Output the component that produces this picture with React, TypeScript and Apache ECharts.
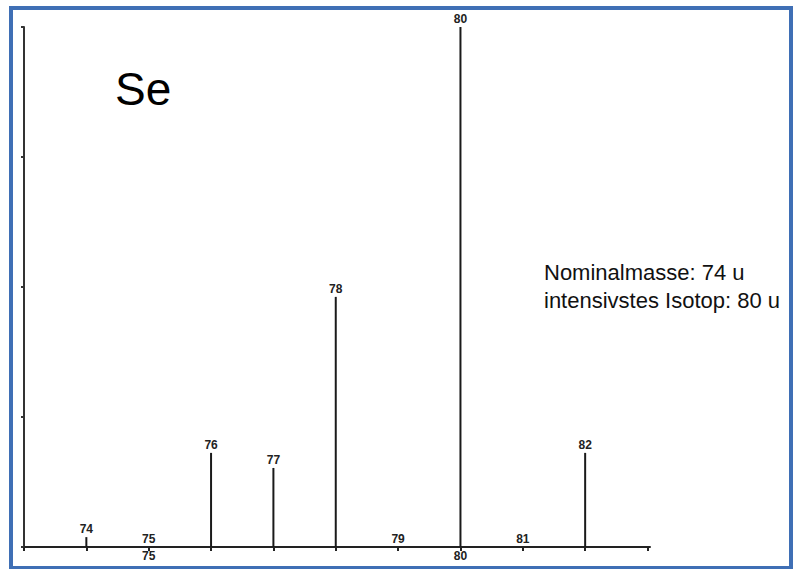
import React, { useEffect, useRef } from "react";
import * as echarts from "echarts";

const masses = [74, 75, 76, 77, 78, 79, 80, 81, 82];
const intensities = [1.9, 0, 18.1, 15.2, 48.1, 0, 100, 0, 18.1];
const axisLabelMasses = [75, 80];
const elementTitle = "Se";
const infoLines = ["Nominalmasse: 74 u", "intensivstes Isotop: 80 u"];

export default function App() {
  const ref = useRef<HTMLDivElement>(null);
  useEffect(() => {
    if (!ref.current) return;
    const chart = echarts.init(ref.current, null, { renderer: "svg" });
    const labelFont = "'Liberation Sans Narrow', 'Liberation Sans', Arial, sans-serif";
    chart.setOption({
      animation: false,
      backgroundColor: "#ffffff",
      grid: { left: 24, right: 144, top: 27, bottom: 22, containLabel: false },
      xAxis: {
        type: "value",
        min: 73,
        max: 83.04,
        interval: 1,
        splitLine: { show: false },
        axisLine: { show: true, lineStyle: { color: "#222", width: 2 } },
        axisTick: { show: true, length: 4, lineStyle: { color: "#222", width: 2 } },
        axisLabel: {
          margin: 3,
          color: "#222",
          fontFamily: labelFont,
          fontWeight: "bold",
          fontSize: 12,
          showMaxLabel: false,
          formatter: (v: number) => (axisLabelMasses.includes(v) ? String(v) : ""),
        },
      },
      yAxis: {
        type: "value",
        min: 0,
        max: 100,
        interval: 25,
        splitLine: { show: false },
        axisLine: { show: true, lineStyle: { color: "#333", width: 2 } },
        axisTick: { show: true, length: 3, lineStyle: { color: "#333", width: 2 } },
        axisLabel: { show: false },
      },
      series: [
        {
          type: "bar",
          barWidth: 2,
          itemStyle: { color: "#1a1a1a" },
          data: masses.map((m, i) => [m, intensities[i]]),
          label: {
            show: true,
            position: "top",
            distance: 2,
            color: "#222",
            fontFamily: labelFont,
            fontWeight: "bold",
            fontSize: 12,
            formatter: (p: any) => String(p.value[0]),
          },
        },
      ],
      graphic: [
        {
          type: "rect",
          shape: { x: 11, y: 8, width: 780, height: 560 },
          style: { fill: "none", stroke: "#3F6FB5", lineWidth: 4 },
          silent: true,
        },
        {
          type: "text",
          left: 115,
          top: 66,
          style: {
            text: elementTitle,
            fontSize: 46,
            fontFamily: "'Liberation Sans', Arial, sans-serif",
            fill: "#000",
          },
        },
        {
          type: "text",
          left: 544,
          top: 258,
          style: {
            text: infoLines.join("\n"),
            fontSize: 22,
            lineHeight: 28,
            fontFamily: "'Liberation Sans', Arial, sans-serif",
            fill: "#111",
          },
        },
      ],
    });
    return () => chart.dispose();
  }, []);
  return (
    <div
      ref={ref}
      style={{ position: "fixed", left: 0, top: 0, width: 794, height: 569 }}
    />
  );
}
